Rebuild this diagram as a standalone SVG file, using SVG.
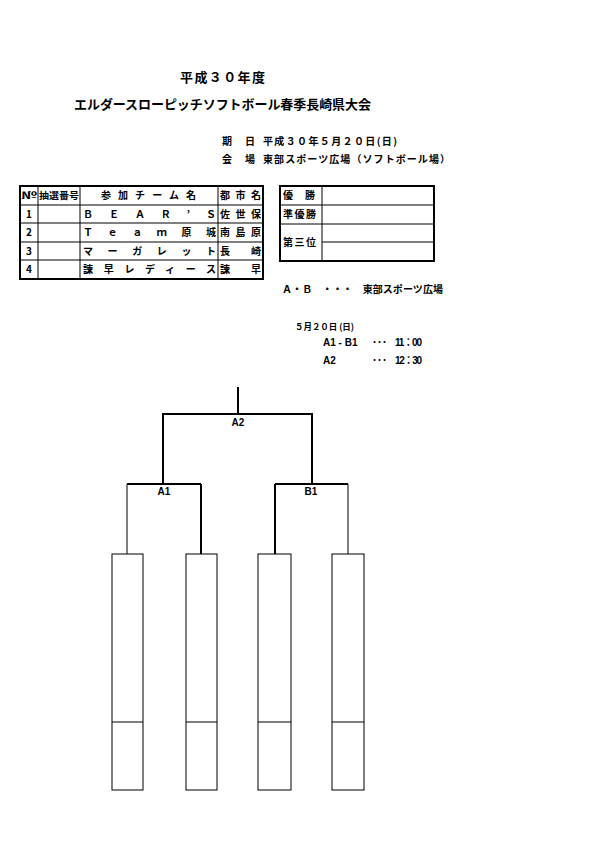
<svg xmlns="http://www.w3.org/2000/svg" width="595" height="842" viewBox="0 0 595 842">
<style>
text{font-family:"Noto Sans CJK JP","Noto Sans CJK SC",sans-serif;font-weight:bold;fill:#000}
.t13{font-size:13px}
.t10{font-size:10px}
.t9{font-size:9px}
.lat{font-family:"Liberation Sans","Noto Sans CJK JP",sans-serif;font-size:10px}
.mid{text-anchor:middle}
.outer{fill:none;stroke:#000;stroke-width:2}
.inner{fill:none;stroke:#000;stroke-width:1}
.thick{fill:none;stroke:#000;stroke-width:2}
.thin{fill:none;stroke:#000;stroke-width:1}
.box{fill:#fff;stroke:#000;stroke-width:1}
</style>
<rect width="595" height="842" fill="#fff"/>

<g id="header">
<text class="t13" x="180" y="82" textLength="85" lengthAdjust="spacing">平成３０年度</text>
<text class="t13" x="74" y="109" textLength="297" lengthAdjust="spacing">エルダースローピッチソフトボール春季長崎県大会</text>
<text class="t10" x="222" y="145">期</text>
<text class="t10" x="245" y="145">日</text>
<text class="t10" x="263" y="145" textLength="134" lengthAdjust="spacing">平成３０年５月２０日(日)</text>
<text class="t10" x="222" y="163">会</text>
<text class="t10" x="245" y="163">場</text>
<text class="t10" x="263" y="163" textLength="187" lengthAdjust="spacing">東部スポーツ広場（ソフトボール場）</text>
</g>

<g id="entry-table">
<rect class="outer" x="20" y="186" width="243" height="93"/>
<line class="inner" x1="20" y1="205" x2="263" y2="205"/>
<line class="inner" x1="20" y1="223" x2="263" y2="223"/>
<line class="inner" x1="20" y1="242" x2="263" y2="242"/>
<line class="inner" x1="20" y1="260" x2="263" y2="260"/>
<line class="inner" x1="38" y1="186" x2="38" y2="279"/>
<line class="inner" x1="80" y1="186" x2="80" y2="279"/>
<line class="inner" x1="218" y1="186" x2="218" y2="279"/>
<text class="t9" x="21" y="199" textLength="16" lengthAdjust="spacingAndGlyphs">№</text>
<text class="t9" x="39" y="199" textLength="40" lengthAdjust="spacingAndGlyphs">抽選番号</text>
<text class="t10" x="101" y="199" textLength="95" lengthAdjust="spacing">参加チーム名</text>
<text class="t10" x="220" y="199" textLength="41" lengthAdjust="spacing">都市名</text>
<text class="t10 mid" x="29" y="218">1</text>
<text class="t10 mid" x="29" y="236">2</text>
<text class="t10 mid" x="29" y="255">3</text>
<text class="t10 mid" x="29" y="273">4</text>
<text class="t10" x="83" y="218" textLength="133" lengthAdjust="spacing">ＢＥＡＲ’Ｓ</text>
<text class="t10" x="83" y="236" textLength="133" lengthAdjust="spacing">Ｔｅａｍ原城</text>
<text class="t10" x="83" y="255" textLength="133" lengthAdjust="spacing">マーガレット</text>
<text class="t10" x="83" y="273" textLength="133" lengthAdjust="spacing">諫早レディース</text>
<text class="t10" x="220" y="218" textLength="41" lengthAdjust="spacing">佐世保</text>
<text class="t10" x="220" y="236" textLength="41" lengthAdjust="spacing">南島原</text>
<text class="t10" x="220" y="255">長</text>
<text class="t10" x="251" y="255">崎</text>
<text class="t10" x="220" y="273">諫</text>
<text class="t10" x="251" y="273">早</text>
</g>

<g id="result-table">
<rect class="outer" x="280" y="186" width="154" height="75"/>
<line class="inner" x1="280" y1="205" x2="434" y2="205"/>
<line class="inner" x1="280" y1="224" x2="434" y2="224"/>
<line class="inner" x1="322" y1="242" x2="434" y2="242"/>
<line class="inner" x1="322" y1="186" x2="322" y2="261"/>
<text class="t10" x="283" y="199">優</text>
<text class="t10" x="305" y="199">勝</text>
<text class="t10" x="283" y="218" textLength="33" lengthAdjust="spacing">準優勝</text>
<text class="t10" x="283" y="246" textLength="33" lengthAdjust="spacing">第三位</text>
</g>

<g id="schedule">
<text class="t10" x="282" y="293" textLength="161" lengthAdjust="spacing">Ａ・Ｂ　・・・　東部スポーツ広場</text>
<text class="t9" x="295" y="330" textLength="59" lengthAdjust="spacingAndGlyphs">５月２０日 (日)</text>
<text class="lat" x="323" y="346">A1 - B1</text>
<text class="lat" x="372" y="346">･･･</text>
<text class="lat" x="395" y="346" textLength="27" lengthAdjust="spacing">11：00</text>
<text class="lat" x="323" y="364">A2</text>
<text class="lat" x="372" y="364">･･･</text>
<text class="lat" x="395" y="364" textLength="27" lengthAdjust="spacing">12：30</text>
</g>

<g id="connectors">
<line class="thick" x1="238" y1="387" x2="238" y2="414"/>
<polyline class="thick" points="163,484 163,414 312,414 312,484"/>
<line class="thick" x1="127" y1="484" x2="201" y2="484"/>
<line class="thick" x1="275" y1="484" x2="348" y2="484"/>
<line class="thin" x1="127" y1="484" x2="127" y2="554"/>
<line class="thick" x1="201" y1="484" x2="201" y2="554"/>
<line class="thick" x1="275" y1="484" x2="275" y2="554"/>
<line class="thin" x1="348" y1="484" x2="348" y2="554"/>
</g>

<g id="match-A2"><text class="lat mid" x="238" y="426">A2</text></g>
<g id="match-A1"><text class="lat mid" x="164" y="495">A1</text></g>
<g id="match-B1"><text class="lat mid" x="311" y="495">B1</text></g>

<g id="slot-1">
<rect class="box" x="112" y="554" width="31" height="236"/>
<line class="thin" x1="112" y1="722" x2="143" y2="722"/>
</g>
<g id="slot-2">
<rect class="box" x="186" y="554" width="31" height="236"/>
<line class="thin" x1="186" y1="722" x2="217" y2="722"/>
</g>
<g id="slot-3">
<rect class="box" x="258" y="554" width="33" height="236"/>
<line class="thin" x1="258" y1="722" x2="291" y2="722"/>
</g>
<g id="slot-4">
<rect class="box" x="332" y="554" width="32" height="236"/>
<line class="thin" x1="332" y1="722" x2="364" y2="722"/>
</g>
</svg>
